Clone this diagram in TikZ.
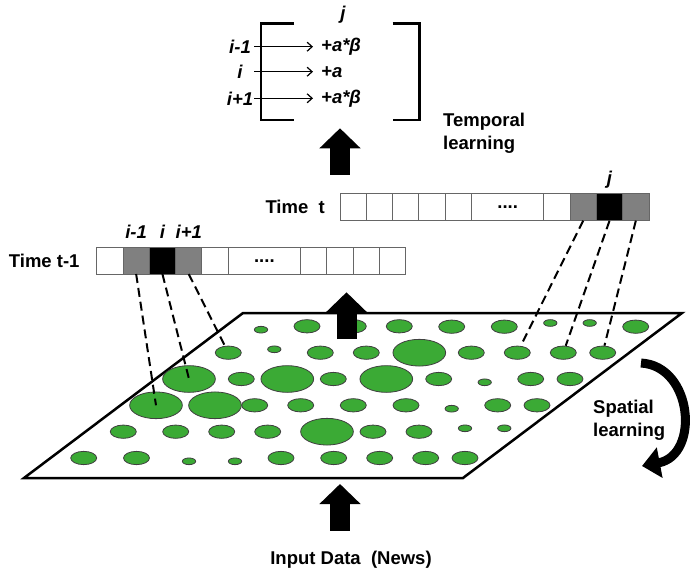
\documentclass[tikz,border=0pt]{standalone}
\usepackage{fontspec}
\setmainfont{Liberation Sans}
\usetikzlibrary{arrows.meta,%
	positioning,%
	shapes.geometric}
\definecolor{leaf}{RGB}{59,170,53}
\definecolor{cellgray}{RGB}{128,128,128}
\tikzset{
	txt/.style={font=\fontsize{18.5}{23}\selectfont\bfseries, inner sep=0pt},
	itxt/.style={font=\fontsize{18.5}{23}\selectfont\bfseries\itshape, inner sep=0pt},
	cell/.style={draw=black!60, line width=1pt, minimum width=26.3pt, minimum height=26.7pt, inner sep=0pt, outer sep=0pt},
	widecell/.style={cell, minimum width=72.3pt, font=\fontsize{18.5}{23}\selectfont\bfseries},
	blob/.style={ellipse, draw=black!75, line width=0.8pt, fill=leaf, inner sep=0pt, minimum width=26pt, minimum height=13.3pt},
	tinyblob/.style={blob, minimum width=13.3pt, minimum height=6.7pt},
	bigblob/.style={blob, minimum width=52.7pt, minimum height=26.7pt},
	link/.style={line width=2pt, dash pattern=on 9pt off 5pt},
	fatarrow/.style={line width=20pt, -{Triangle[length=20pt,width=40pt]}}
}
\begin{document}
\begin{tikzpicture}[x=1pt,y=-1pt]
			\useasboundingbox (0,0) rectangle (694,575);
			% update matrix
			\draw[line width=2.5pt] (294,23.3) -- (261,23.3) -- (261,120) -- (294,120);
			\draw[line width=2.5pt] (392.7,23.3) -- (419.3,23.3) -- (419.3,120) -- (392.7,120);
			\node[itxt] (jtop) at (343,15) {j};
			\node[itxt, minimum width=28pt] (r1) at (240,46.7) {i-1};
			\node[itxt, minimum width=28pt] (r2) at (240,71.7) {i};
			\node[itxt, minimum width=28pt] (r3) at (240,98.3) {i+1};
			\node[itxt, inner xsep=8pt, anchor=west] (v1) at (313,46.7) {+a*β};
			\node[itxt, inner xsep=8pt, anchor=west] (v2) at (313,71.7) {+a};
			\node[itxt, inner xsep=8pt, anchor=west] (v3) at (313,98.3) {+a*β};
			\draw[line width=1.2pt, -{Straight Barb[length=5pt,width=9pt]}] (r1) -- (v1);
			\draw[line width=1.2pt, -{Straight Barb[length=5pt,width=9pt]}] (r2) -- (v2);
			\draw[line width=1.2pt, -{Straight Barb[length=5pt,width=9pt]}] (r3) -- (v3);
			\node[txt, align=left, anchor=west] (temporal) at (443,133.5) {Temporal\\learning};
			% time t
			\node[cell, fill=white, anchor=west] (q1) at (340,207.3) {};
			\foreach \k in {2,...,5}
				{\pgfmathtruncatemacro\j{\k-1}
				\node[cell, fill=white, right=0pt of q\j] (q\k) {};}
			\node[widecell, right=0pt of q5] (q6) {....};
			\node[cell, fill=white, right=0pt of q6] (q7) {};
			\node[cell, fill=cellgray, right=0pt of q7] (q8) {};
			\node[cell, fill=black, right=0pt of q8] (q9) {};
			\node[cell, fill=cellgray, right=0pt of q9] (q10) {};
			\node[txt, left=15pt of q1] (tnow) {Time~~t};
			\node[itxt, above=5pt of q9] (jcol) {j};
			% time t-1
			\node[cell, fill=white, anchor=west] (p1) at (96.7,260.7) {};
			\node[cell, fill=cellgray, right=0pt of p1] (p2) {};
			\node[cell, fill=black, right=0pt of p2] (p3) {};
			\node[cell, fill=cellgray, right=0pt of p3] (p4) {};
			\node[cell, fill=white, right=0pt of p4] (p5) {};
			\node[widecell, right=0pt of p5] (p6) {....};
			\foreach \k in {7,...,10}
				{\pgfmathtruncatemacro\j{\k-1}
				\node[cell, fill=white, right=0pt of p\j] (p\k) {};}
			\node[txt, left=17pt of p1] (tprev) {Time t-1};
			\node[itxt, above=9pt of p2] (im) {i-1};
			\node[itxt, above=9pt of p3] (ic) {i};
			\node[itxt, above=9pt of p4] (ip) {i+1};
			% input plane
			\draw[line width=2.5pt, fill=white] (24,478) -- (243,313) -- (682,313) -- (463,478) -- cycle;
			\foreach \x/\y [count=\k] in {156/405.3, 189/379, 215/405.3, 287.3/379, 386.3/379, 419.3/352.7, 327/431.7}
				\node[bigblob] (b\k) at (\x,\y) {};
			\foreach \x/\y [count=\k] in {228.3/352.7, 517.3/352.7, 563.3/352.7, 602.7/352.7,
				307/326.3, 353.3/326.3, 399.3/326.3, 451.7/326.7, 504.3/326.7, 635.7/326.7,
				320.3/352.7, 366.3/352.7, 471.3/352.7,
				241.3/379, 333.3/379, 438.7/379, 530.7/379, 570/379,
				254.7/405.3, 300.7/405.3, 353.3/405.3, 406/405.3, 497.7/405.3, 537/405.3,
				123.3/431.7, 175.7/431.7, 221.7/431.7, 267.7/431.7, 373/431.7, 419/431.7,
				83.7/458, 136.5/458, 281/458, 333.7/458, 379.7/458, 425.7/458, 465/458}
				\node[blob] (m\k) at (\x,\y) {};
			\foreach \x/\y [count=\k] in {261/329.7, 550.3/323, 589.7/323, 274.3/349.3, 484.7/382.3,
				451.7/408.7, 465/428.3, 504.3/428.3, 189/461.3, 235/461.3}
				\node[tinyblob] (s\k) at (\x,\y) {};
			\draw[link] (p2.south) -- (b1.center);
			\draw[link] (p3.south) -- (b2.center);
			\draw[link] (p4.south) -- (m1);
			\draw[link] (q8.south) -- (m2);
			\draw[link] (q9.south) -- (m3);
			\draw[link] (q10.south) -- (m4);
			% big arrows
			\coordinate (ta1) at (340,175);
			\coordinate (ta2) at (340,128.3);
			\coordinate (ma1) at (346.5,339);
			\coordinate (ma2) at (346.5,292.3);
			\coordinate (ba1) at (340,530.7);
			\coordinate (ba2) at (340,484);
			\draw[fatarrow] (ta1) -- (ta2);
			\draw[fatarrow] (ma1) -- (ma2);
			\draw[fatarrow] (ba1) -- (ba2);
			\node[txt] (input) at (351,560) {Input Data~~(News)};
			% spatial
			\coordinate (sw1) at (641,363);
			\coordinate (sw2) at (642,466);
			\draw[line width=9pt, -{Triangle[length=18pt,width=30pt]}] (sw1) .. controls (693,366) and (700,455) .. (sw2);
			\node[txt, align=left, anchor=west] (spatial) at (593,420) {Spatial\\learning};
\end{tikzpicture}
\end{document}
